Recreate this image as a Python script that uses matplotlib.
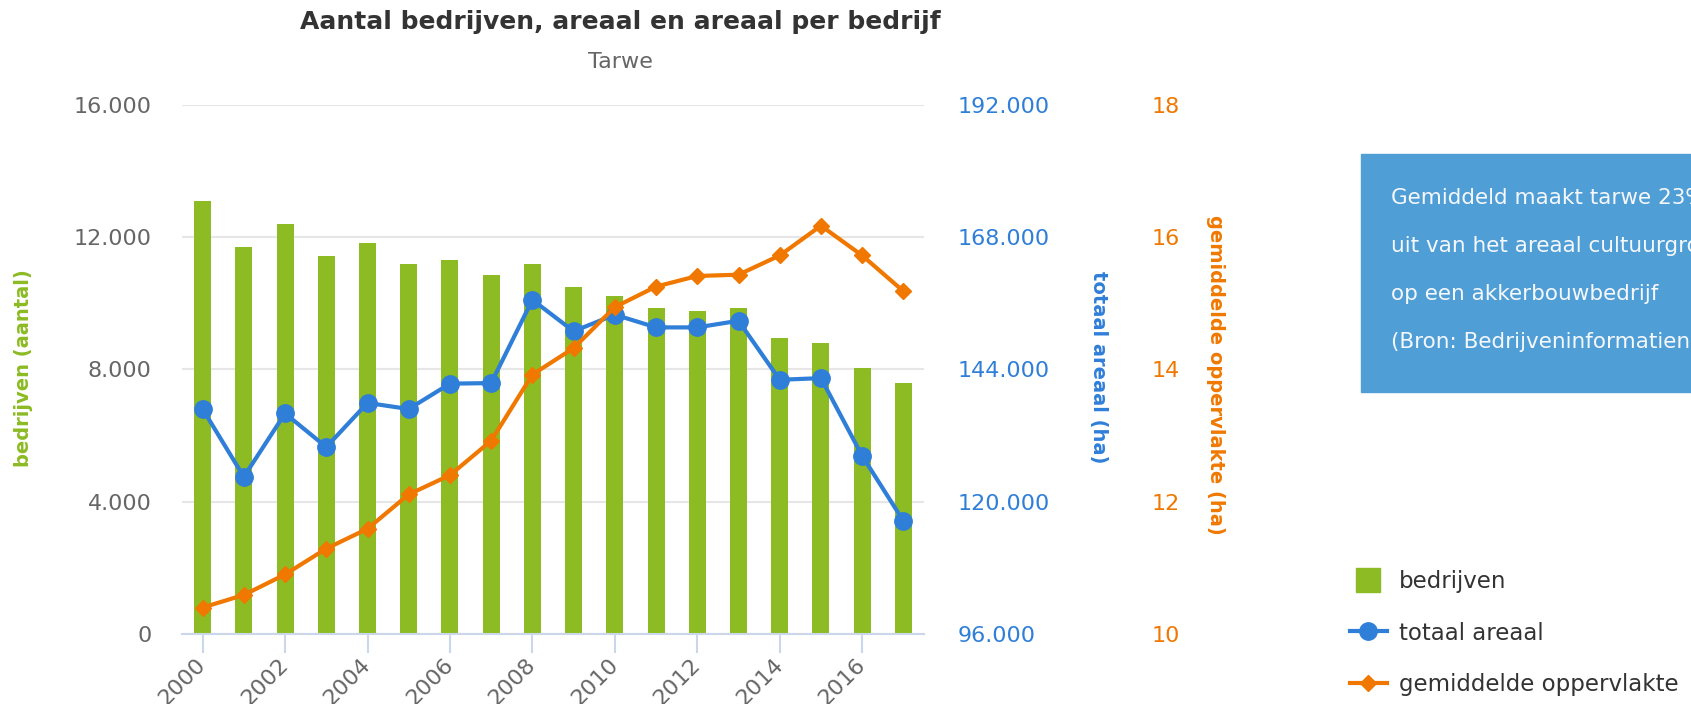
import matplotlib
matplotlib.use('Agg')
import matplotlib.pyplot as plt
from matplotlib.lines import Line2D
from matplotlib.patches import Rectangle
from matplotlib.ticker import FuncFormatter

# data
jaren = list(range(2000, 2018))
bedrijven = [13090, 11700, 12400, 11430, 11820, 11190, 11310, 10860, 11190,
             10500, 10230, 9840, 9770, 9840, 8960, 8790, 8050, 7600]
totaal_areaal = [136800, 124500, 136000, 129900, 137900, 136800, 141400, 141500, 156600,
                 150900, 153900, 151600, 151600, 152800, 142100, 142400, 128300, 116500]
gem_oppervlakte = [10.40, 10.59, 10.90, 11.29, 11.59, 12.11, 12.40, 12.92, 13.92,
                   14.32, 14.94, 15.25, 15.41, 15.43, 15.72, 16.17, 15.72, 15.18]

info_regels = ["Gemiddeld maakt tarwe 23% van het areaal",
               "uit van het areaal cultuurgrond",
               "op een akkerbouwbedrijf",
               "(Bron: Bedrijveninformatienet)"]

groen = '#8cbb23'
blauw = '#2f7ed8'
oranje = '#f07800'
grijs = '#666666'

plt.rcParams['font.family'] = ['DejaVu Sans']

W, H = 1691, 704
fx = lambda px: px / W
fy = lambda py: 1 - py / H

fig = plt.figure(figsize=(W / 100, H / 100), dpi=100)
ax = fig.add_axes([fx(182), fy(634), (924 - 182) / W, (634 - 104.6) / H])

x = list(range(len(jaren)))
ax.bar(x, bedrijven, width=0.41, color=groen, zorder=2)
ax.set_xlim(-0.5, len(jaren) - 0.5)
ax.set_ylim(0, 16000)
ax.set_yticks(range(0, 16001, 4000))
ax.yaxis.set_major_formatter(FuncFormatter(lambda v, p: f"{int(v):,}".replace(",", ".")))
ax.grid(axis='y', color='#e6e6e6', lw=1.5)
ax.set_axisbelow(True)
for s in ['top', 'left', 'right']:
    ax.spines[s].set_visible(False)
ax.spines['bottom'].set_color('#ccd6eb')
ax.spines['bottom'].set_linewidth(1.5)
ax.tick_params(axis='y', length=0, pad=22, labelsize=16, labelcolor=grijs)
ax.set_xticks(x[::2])
ax.set_xticklabels([str(j) for j in jaren[::2]], rotation=45, ha='right',
                   va='center', rotation_mode='anchor')
ax.tick_params(axis='x', length=14, width=1.5, color='#ccd6eb', labelsize=16,
               labelcolor=grijs, pad=6)

ax2 = ax.twinx()
ax2.plot(x, totaal_areaal, color=blauw, lw=3, marker='o', ms=12.5)
ax2.set_ylim(96000, 192000)
ax2.set_yticks(range(96000, 192001, 24000))
ax2.yaxis.set_major_formatter(FuncFormatter(lambda v, p: f"{int(v):,}".replace(",", ".")))
ax2.tick_params(axis='y', length=0, pad=24, labelsize=16, labelcolor=blauw)
for s in ax2.spines.values():
    s.set_visible(False)

ax3 = ax.twinx()
ax3.plot(x, gem_oppervlakte, color=oranje, lw=3, marker='D', ms=8.5)
ax3.set_ylim(10, 18)
ax3.set_yticks(range(10, 19, 2))
ax3.tick_params(axis='y', length=0, pad=164, labelsize=16, labelcolor=oranje)
for s in ax3.spines.values():
    s.set_visible(False)

# titels
fig.text(fx(620), fy(22), "Aantal bedrijven, areaal en areaal per bedrijf", ha='center',
         va='center', fontsize=18, fontweight='bold', color='#333333')
fig.text(fx(620), fy(62), "Tarwe", ha='center', va='center', fontsize=16, color=grijs)

# as-titels
fig.text(fx(24), fy(368), "bedrijven (aantal)", rotation=90, ha='center', va='center',
         fontsize=14, fontweight='bold', color=groen)
fig.text(fx(1098), fy(367), "totaal areaal (ha)", rotation=-90, ha='center', va='center',
         fontsize=14, fontweight='bold', color=blauw)
fig.text(fx(1215), fy(375), "gemiddelde oppervlakte (ha)", rotation=-90, ha='center',
         va='center', fontsize=14, fontweight='bold', color=oranje)

# infoblok (loopt net als in het origineel over de rand)
fig.patches.append(Rectangle((fx(1361), fy(392)), 1 - fx(1361), (392 - 154) / H,
                             transform=fig.transFigure, color='#509ed6', zorder=0))
for i, regel in enumerate(info_regels):
    fig.text(fx(1391), fy(198 + 48 * i), regel, ha='left', va='center',
             fontsize=15.5, color='#f5f8fc')

# legenda
handles = [Line2D([], [], ls='none', marker='s', ms=17, color=groen),
           Line2D([], [], color=blauw, lw=3, marker='o', ms=12.5),
           Line2D([], [], color=oranje, lw=3, marker='D', ms=8.5)]
fig.legend(handles, ['bedrijven', 'totaal areaal', 'gemiddelde oppervlakte'],
           loc='center left', bbox_to_anchor=(fx(1350), fy(633)), frameon=False,
           fontsize=16.5, handlelength=1.6, handletextpad=0.55, labelspacing=1.25,
           borderpad=0, borderaxespad=0, labelcolor='#333333')

fig.savefig('out.png', dpi=100)
